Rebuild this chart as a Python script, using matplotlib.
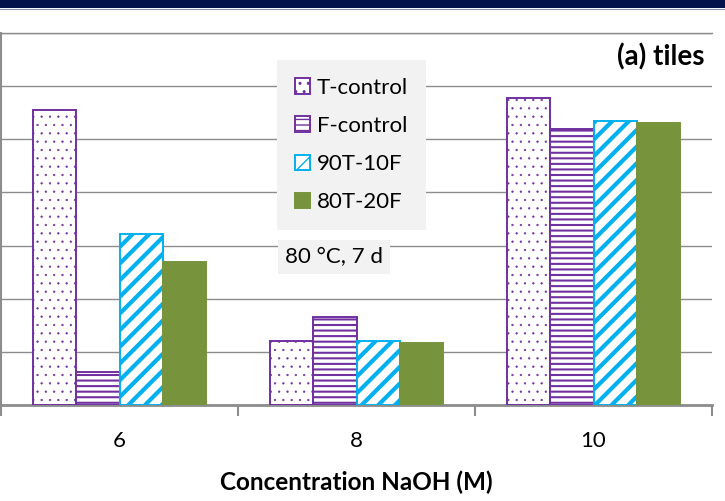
"""Bar chart of the four mixes against NaOH concentration (80 °C, 7 d)."""

import matplotlib
matplotlib.use('Agg')
import matplotlib.pyplot as plt
from matplotlib.patches import Rectangle
from matplotlib.lines import Line2D
import numpy as np

concentrations = ['6', '8', '10']
series_names = ['T-control', 'F-control', '90T-10F', '80T-20F']
t_control = [55.6, 12.0, 57.7]
f_control = [6.3, 16.5, 51.9]
t90_f10 = [32.1, 12.1, 53.4]
t80_f20 = [27.0, 11.7, 53.0]

PURPLE = '#7030A0'
CYAN = '#00B0F0'
GREEN = '#77933C'
GRID = '#8C8C8C'
FONT = 'Lato'
FS = 16

plt.rcParams['font.family'] = [FONT, 'DejaVu Sans']

fig = plt.figure(figsize=(7.25, 5.01), dpi=100)
W, H = 725.0, 501.0
ax = fig.add_axes([1 / W, 1 - 405 / H, 711 / W, 372 / H])

# dark header strip
fig.patches.append(Rectangle((0, 1 - 7.5 / H), 1, 7.5 / H, transform=fig.transFigure,
                             facecolor='#03124A', edgecolor='none', zorder=0))
fig.lines.append(Line2D([0, 1], [1 - 8.5 / H] * 2, transform=fig.transFigure,
                        color='#8A93AD', lw=0.8))

x = np.arange(len(concentrations))
w = 0.183
styles = [
    dict(facecolor='white', edgecolor=PURPLE, hatch='..', hlw=0.4),
    dict(facecolor='white', edgecolor=PURPLE, hatch='---', hlw=1.5),
    dict(facecolor='white', edgecolor=CYAN, hatch='//', hlw=3.0),
    dict(facecolor=GREEN, edgecolor=GREEN, hatch=None, hlw=1.0),
]
values = [t_control, f_control, t90_f10, t80_f20]
for i, (vals, name, st) in enumerate(zip(values, series_names, styles)):
    with plt.rc_context({'hatch.linewidth': st['hlw']}):
        bars = ax.bar(x + (i - 1.5) * w, vals, width=w, label=name,
                      facecolor=st['facecolor'], edgecolor=st['edgecolor'],
                      hatch=st['hatch'], linewidth=1.4, zorder=3)
        for b in bars:
            if hasattr(b, 'set_hatch_linewidth'):
                b.set_hatch_linewidth(st['hlw'])

ax.set_xlim(-0.5, 2.5)
ax.set_ylim(0, 70)
ax.set_yticks(np.arange(0, 71, 10))
ax.yaxis.grid(True, color=GRID, lw=1.0, zorder=0)
ax.tick_params(axis='y', left=False, labelleft=False)

ax.set_xticks(x)
ax.set_xticklabels(concentrations, fontsize=FS)
ax.set_xticks([-0.5, 0.5, 1.5, 2.5], minor=True)
ax.tick_params(axis='x', which='major', length=0, pad=18.5)
ax.tick_params(axis='x', which='minor', length=8, width=1.5, color=GRID)
ax.set_xlabel('Concentration NaOH (M)', fontsize=17.5, fontweight='bold', labelpad=14)

ax.spines['right'].set_visible(False)
ax.spines['top'].set_color(GRID)
ax.spines['top'].set_linewidth(1.0)
ax.spines['left'].set_color(GRID)
ax.spines['left'].set_linewidth(1.5)
ax.spines['bottom'].set_color(GRID)
ax.spines['bottom'].set_linewidth(2.0)

leg = ax.legend(loc='upper left', bbox_to_anchor=(277 / W, 1 - 60 / H),
                bbox_transform=fig.transFigure, fontsize=FS, frameon=True,
                fancybox=False, facecolor='#F2F2F2', edgecolor='none', framealpha=1,
                handlelength=0.7, handleheight=0.7, handletextpad=0.3,
                labelspacing=0.82, borderpad=0.8, borderaxespad=0)
leg.set_zorder(5)

ax.text(0.99, 0.935, '(a) tiles', transform=ax.transAxes, ha='right', va='center',
        fontsize=20, fontweight='bold', zorder=6)
ax.text(334 / W, 1 - 257 / H, '80 °C, 7 d', transform=fig.transFigure,
        ha='center', va='center', fontsize=FS, zorder=6,
        bbox=dict(boxstyle='square,pad=0.3', facecolor='#F2F2F2', edgecolor='none'))

fig.savefig('out.png', dpi=100)
